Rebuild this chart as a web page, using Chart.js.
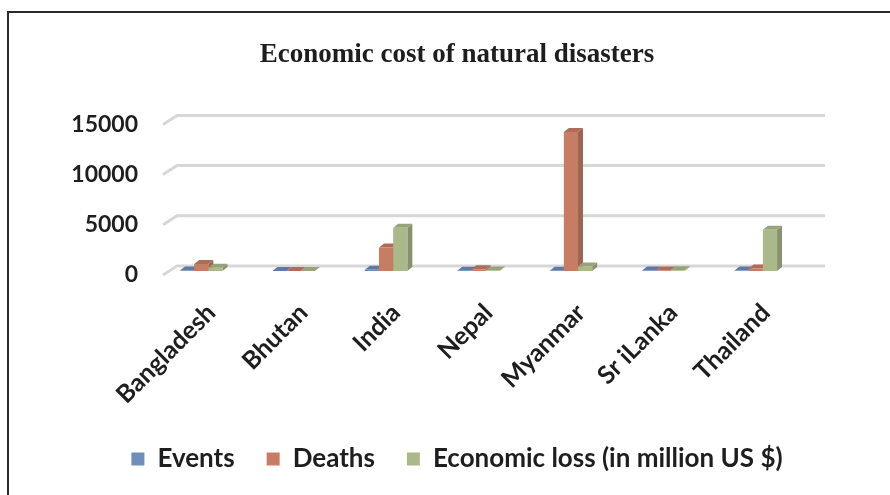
<!DOCTYPE html>
<html>
<head>
<meta charset="utf-8">
<script src="https://cdn.jsdelivr.net/npm/chart.js@4.4.1/dist/chart.umd.min.js"></script>
<style>
  html, body { margin: 0; padding: 0; background: #ffffff; overflow: hidden; }
  #wrap { position: relative; width: 890px; height: 495px; }
  #frame { position: absolute; left: 7px; top: 11px; width: 900px; height: 500px;
           border-left: 2px solid #2a2a2a; border-top: 2px solid #2a2a2a; pointer-events: none; }
  canvas { position: absolute; left: 0; top: 0; }
</style>
</head>
<body>
<div id="wrap">
  <canvas id="c" width="890" height="495"></canvas>
  <div id="frame"></div>
</div>
<script>
const categories = ['Bangladesh', 'Bhutan', 'India', 'Nepal', 'Myanmar', 'Sr iLanka', 'Thailand'];
const events = [60, 5, 120, 30, 20, 40, 50];
const deaths = [700, 10, 2350, 180, 13850, 60, 250];
const economicLoss = [320, 5, 4300, 60, 450, 80, 4100];
const yTicks = [0, 5000, 10000, 15000];
const seriesNames = ['Events', 'Deaths', 'Economic loss (in million US $)'];

const FRONT = ['#6f8fba', '#c67d64', '#abb889'];
const SIDE  = ['#54709a', '#9b6553', '#889270'];
const TOP   = ['#5d7ba6', '#b06c58', '#97a378'];
const DX = 5, DY = -4;

const threeD = {
  id: 'threeD',
  beforeDatasetsDraw(chart) {
    const ctx = chart.ctx;
    const ys = chart.scales.y;
    const area = chart.chartArea;
    ctx.save();
    ctx.strokeStyle = '#d7d7d7';
    ctx.lineWidth = 3;
    yTicks.forEach(v => {
      const y = ys.getPixelForValue(v);
      ctx.beginPath();
      ctx.moveTo(area.left + 8, y + 4);
      ctx.lineTo(area.left + 22, y - 5);
      ctx.lineTo(area.right + 23, y - 5);
      ctx.stroke();
    });
    ctx.restore();
    chart.data.datasets.forEach((ds, di) => {
      const meta = chart.getDatasetMeta(di);
      meta.data.forEach(bar => {
        const p = bar.getProps(['x', 'y', 'base', 'width'], true);
        const l = p.x - p.width / 2, r = p.x + p.width / 2;
        const top = Math.min(p.y, p.base), bot = Math.max(p.y, p.base);
        ctx.save();
        ctx.fillStyle = SIDE[di];
        ctx.beginPath();
        ctx.moveTo(r, top);
        ctx.lineTo(r + DX, top + DY);
        ctx.lineTo(r + DX, bot + DY);
        ctx.lineTo(r, bot);
        ctx.closePath();
        ctx.fill();
        ctx.fillStyle = TOP[di];
        ctx.beginPath();
        ctx.moveTo(l, top);
        ctx.lineTo(l + DX, top + DY);
        ctx.lineTo(r + DX, top + DY);
        ctx.lineTo(r, top);
        ctx.closePath();
        ctx.fill();
        ctx.restore();
      });
    });
  }
};

const data = {
  labels: categories,
  datasets: [
    { label: seriesNames[0], data: events, backgroundColor: FRONT[0], borderWidth: 0, yAxisID: 'y' },
    { label: seriesNames[1], data: deaths, backgroundColor: FRONT[1], borderWidth: 0, yAxisID: 'y' },
    { label: seriesNames[2], data: economicLoss, backgroundColor: FRONT[2], borderWidth: 0, yAxisID: 'y' }
  ]
};

const FONT = 'Lato, "Open Sans", sans-serif';

new Chart(document.getElementById('c'), {
  type: 'bar',
  data: data,
  plugins: [threeD],
  options: {
    responsive: false,
    animation: false,
    devicePixelRatio: 1,
    layout: { padding: { left: 50, right: 26, top: 0, bottom: 21 } },
    datasets: { bar: { categoryPercentage: 0.46, barPercentage: 1.0 } },
    plugins: {
      title: {
        display: true,
        text: 'Economic cost of natural disasters',
        color: '#1e1e1e',
        font: { family: '"Liberation Serif", "Times New Roman", serif', size: 27, weight: 'bold' },
        padding: { top: 39, bottom: 49 }
      },
      legend: {
        position: 'bottom',
        maxHeight: 60,
        labels: {
          boxWidth: 13, boxHeight: 13, padding: 32,
          color: '#1e1e1e',
          font: { family: FONT, size: 26, weight: 'bold' }
        }
      },
      tooltip: { enabled: false }
    },
    scales: {
      x: {
        grid: { display: false, drawTicks: false },
        border: { display: false },
        ticks: {
          autoSkip: false, minRotation: 45, maxRotation: 45,
          padding: 27, labelOffset: 10,
          color: '#1e1e1e',
          font: { family: FONT, size: 25, weight: 'bold' }
        },
        afterFit(s) { s.height = 143; }
      },
      y: {
        position: 'left',
        min: 0, max: 15000,
        grid: { display: false, drawTicks: false },
        border: { display: false },
        ticks: {
          stepSize: 5000, padding: 17, labelOffset: 4,
          color: '#1e1e1e',
          font: { family: FONT, size: 23, weight: 'bold' },
          callback: (v) => String(v)
        },
        afterFit(s) { s.width = 105; }
      },
      yRightSpace: {
        position: 'right',
        display: true,
        min: 0, max: 1,
        grid: { display: false, drawTicks: false },
        border: { display: false },
        ticks: { display: false },
        afterFit(s) { s.width = 62; }
      }
    }
  }
});
</script>
</body>
</html>
